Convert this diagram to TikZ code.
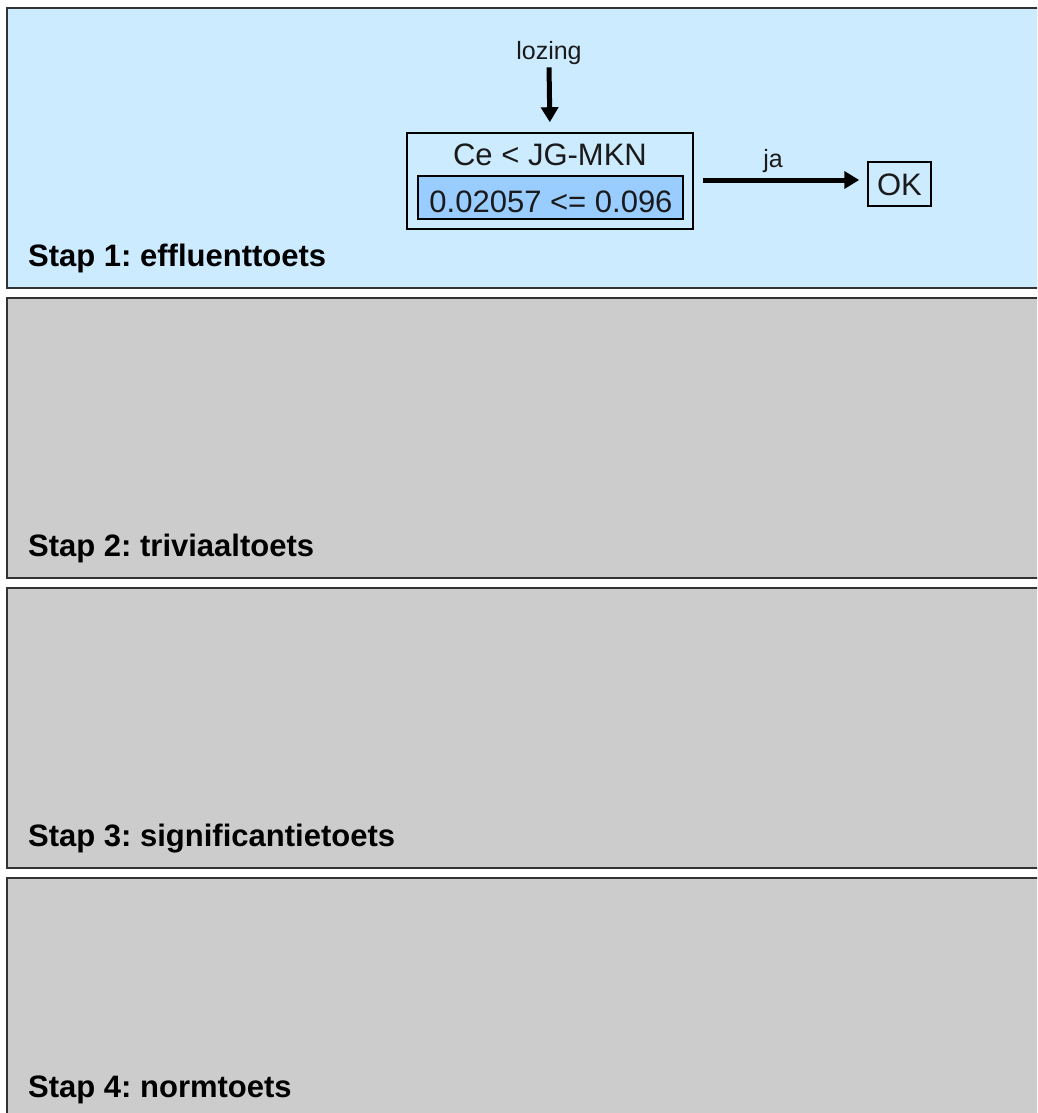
\documentclass[tikz,border=0pt]{standalone}
\usepackage{fontspec}
\setmainfont{Liberation Sans}
\usetikzlibrary{arrows.meta}
\frenchspacing
\definecolor{panelblue}{HTML}{CCEBFF}
\definecolor{panelgray}{HTML}{CCCCCC}
\definecolor{valblue}{HTML}{99CCFF}
\definecolor{edge}{HTML}{333333}
\definecolor{txt}{HTML}{1A1A1A}
\tikzset{
  panel/.style={draw=edge, line width=2.2pt},
  steplabel/.style={anchor=base west, inner sep=0pt, text=black, font=\fontsize{31}{36}\selectfont\bfseries},
  bigtext/.style={inner sep=0pt, text=txt, font=\fontsize{31}{36}\selectfont},
  smalltext/.style={inner sep=0pt, text=txt, font=\fontsize{25}{30}\selectfont},
  arr/.style={line width=5pt, -{Triangle[length=15pt,width=17pt]}},
}
\begin{document}
\begin{tikzpicture}[x=1pt,y=-1pt]
\useasboundingbox (0,0) rectangle (1037,1113);
\clip (0,0) rectangle (1037,1113);
\fill[white] (0,0) rectangle (1037,1113);
% panels
\draw[panel, fill=panelblue] (7,8) rectangle (1050,288);
\draw[panel, fill=panelgray] (7,298) rectangle (1050,578);
\draw[panel, fill=panelgray] (7,588) rectangle (1050,868);
\draw[panel, fill=panelgray] (7,878) rectangle (1050,1130);
% step labels
\node[steplabel] (s1) at (28,266) {Stap 1: effluenttoets};
\node[steplabel] (s2) at (28,556) {Stap 2: triviaaltoets};
\node[steplabel] (s3) at (28,846) {Stap 3: significantietoets};
\node[steplabel] (s4) at (28,1097) {Stap 4: normtoets};
% test box
\node[draw=black, line width=1.6pt, fill=panelblue, minimum width=286pt, minimum height=96pt, inner sep=0pt] (outer) at (550,181) {};
\node[draw=black, line width=1.6pt, fill=valblue, minimum width=265pt, minimum height=43pt, inner sep=0pt] (inner) at (550.5,197.5) {};
\node[bigtext, anchor=base] (cond) at (550,165) {Ce < JG-MKN};
\node[bigtext, anchor=base] (val) at (551,212) {0.02057 <= 0.096};
% input
\node[smalltext, anchor=base] (lozing) at (549,60) {lozing};
\draw[arr, shorten <=2pt, shorten >=10pt] (lozing.south) -- (outer.north);
% OK
\node[draw=black, line width=1.5pt, fill=panelblue, minimum width=63pt, minimum height=44pt, inner sep=0pt] (ok) at (899.5,184) {};
\node[bigtext, anchor=base] (oktext) at (ok.center) [yshift=-11pt] {OK};
\draw[arr, shorten <=9pt, shorten >=8pt] (outer.east |- 0,180) coordinate (ae) -- (ok.west |- 0,180) coordinate (ow);
\node[smalltext, anchor=base] (ja) at (773,167) {ja};
\end{tikzpicture}
\end{document}
